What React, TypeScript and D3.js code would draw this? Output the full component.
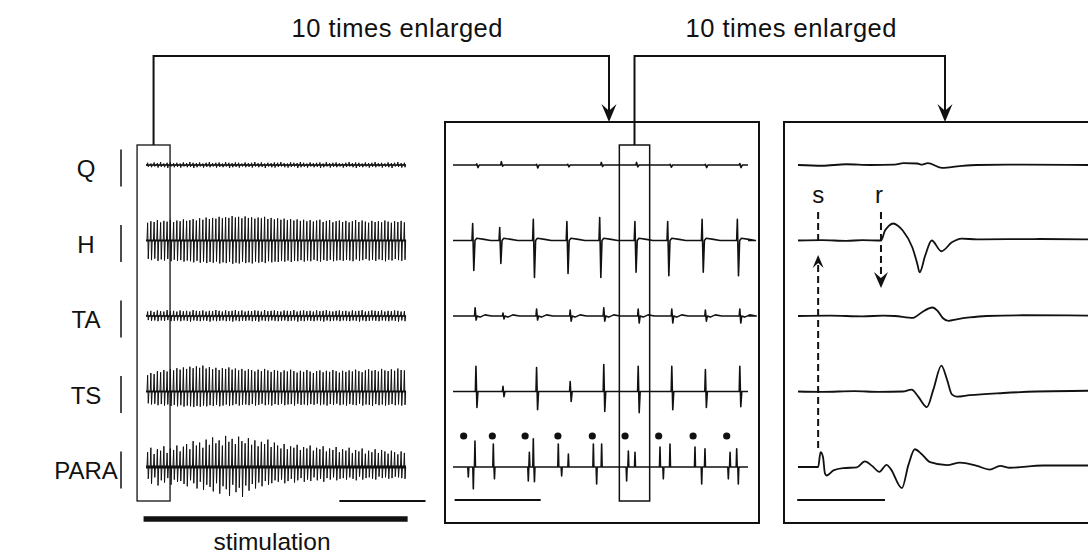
import React from "react";
import * as d3 from "d3";

// ---------- labels ----------
const muscles = ["Q", "H", "TA", "TS", "PARA"];
const headerLabel = "10 times enlarged";
const stimLabel = "stimulation";

// ---------- left panel (whole stimulation train), amplitudes in 0.01 mV per stimulus ----------
const stimPeriodMs = 40; // 25 Hz stimulation
const stimCount = 80;
const leftUp: Record<string, number[]> = {
  Q: [6,4,7,5,8,4,6,7,5,6, 4,7,5,8,6,5,7,4,6,8, 5,6,7,4,8,6,5,7,6,4, 7,5,6,8,5,7,4,6,5,7,
      6,8,5,4,7,6,5,8,6,4, 7,5,6,7,4,8,5,6,7,5, 4,6,8,5,7,6,4,7,5,6, 8,5,6,4,7,5,6,8,5,6],
  H: [48,52,50,55,49,53,51,56,50,54, 52,57,53,55,58,54,60,56,62,58, 61,59,64,60,63,61,66,62,64,60, 65,61,63,59,62,60,64,58,61,57,
      60,56,59,55,58,54,57,53,56,52, 55,51,54,56,50,53,55,49,52,54, 50,53,49,52,55,50,54,51,48,53, 50,52,49,54,51,48,52,50,53,49],
  TA: [12,14,11,15,13,12,16,13,14,12, 15,13,14,12,16,14,13,15,12,14, 13,16,14,12,15,13,14,16,13,15, 12,14,13,15,14,12,16,13,14,15,
       13,12,15,14,13,16,12,14,15,13, 14,12,15,13,14,16,13,12,14,15, 13,14,12,15,13,14,16,12,13,15, 14,13,15,12,14,13,15,14,12,13],
  TS: [44,50,47,55,52,58,54,60,57,63, 59,65,61,67,63,68,64,70,62,66, 60,64,58,63,61,65,59,62,57,61, 56,60,58,54,59,55,61,57,53,58,
       56,52,57,54,59,55,51,56,53,58, 54,50,55,57,52,56,53,58,55,51, 56,53,57,54,59,55,52,57,60,56, 58,54,61,57,55,60,56,62,58,57],
  PARA: [40,52,35,48,44,56,38,50,46,58, 42,55,62,48,70,58,66,52,74,60, 80,64,72,58,84,68,76,62,82,70, 64,78,60,72,56,68,62,74,54,66,
         58,50,62,48,56,52,60,46,54,50, 58,44,52,48,56,42,50,46,54,40, 48,44,52,38,46,42,50,36,44,40, 48,38,46,42,36,44,40,34,42,38],
};
const leftDown: Record<string, number[]> = {
  Q: [5,6,4,7,5,6,8,4,6,5, 7,4,6,5,8,6,4,7,5,6, 4,7,5,6,4,8,6,5,7,4, 6,5,7,4,6,5,8,4,6,7,
      5,4,6,7,5,4,8,6,5,7, 4,6,5,8,6,4,7,5,6,4, 7,5,4,6,8,5,6,4,7,5, 6,4,7,5,6,8,4,5,7,6],
  H: [50,53,49,55,51,54,50,56,52,55, 53,57,54,56,59,55,60,57,61,58, 60,57,62,59,61,58,63,60,62,58, 61,59,62,57,60,58,61,56,59,57,
      58,55,57,54,58,55,56,53,57,54, 56,52,55,57,53,55,52,56,54,53, 55,52,54,56,51,55,53,50,54,52, 55,51,53,56,52,54,50,53,55,52],
  TA: [11,13,12,14,12,13,11,14,13,12, 14,12,13,15,12,13,14,12,13,15, 12,14,13,12,14,13,15,12,14,13, 13,12,14,13,15,12,13,14,12,13,
       14,13,12,14,13,12,15,13,14,12, 13,14,12,13,15,12,14,13,12,14, 12,13,14,12,13,15,12,14,13,12, 13,14,12,13,14,12,13,15,12,14],
  TS: [32,35,33,37,34,38,35,39,36,40, 37,41,38,40,42,39,41,38,40,37, 39,36,40,38,35,39,37,34,38,36, 35,37,34,38,36,33,37,35,38,34,
       36,33,37,35,34,38,33,36,35,37, 34,36,33,37,35,38,34,36,33,37, 35,38,34,36,37,33,38,35,36,39, 34,37,35,38,36,34,37,35,38,36],
  PARA: [32,45,28,50,36,42,30,48,34,40, 38,46,52,36,44,58,40,62,48,54, 66,44,72,52,60,78,48,68,56,81, 50,64,46,58,42,52,38,48,44,36,
         40,34,44,38,32,42,36,30,40,34, 38,28,36,32,40,30,34,28,36,32, 30,34,28,32,36,26,34,30,28,32, 34,26,30,28,32,30,26,28,30,32],
};
const leftWindowMs = [-110, 296];

// ---------- middle panel (10x enlarged), times in ms ----------
const midStimTimes = [13, 48, 88, 128, 170, 210, 251, 293, 334];
const midQTimes = [29, 59, 102, 140, 181, 224, 265, 308, 350];
const midQUp = [3, 9, 2, 2, 7, 7, 2, 2, 4];
const midQDown = [7, 3, 8, 5, 4, 5, 6, 7, 7];
const midHTimes = [24, 57, 98, 139, 179, 222, 262, 304, 347];
const midHUp = [46, 35, 57, 51, 62, 51, 51, 57, 57];
const midHDown = [81, 62, 100, 89, 100, 86, 95, 86, 95];
const midTATimes = [27, 61, 102, 143, 184, 226, 267, 308, 350];
const midTAUp = [22, 8, 19, 16, 22, 19, 19, 16, 19];
const midTADown = [11, 8, 11, 14, 14, 19, 19, 14, 19];
const midTSTimes = [28, 61, 102, 143, 184, 226, 267, 308, 350];
const midTSUp = [68, 14, 65, 27, 73, 68, 68, 59, 68];
const midTSDown = [43, 14, 49, 27, 54, 57, 49, 43, 41];
const midPARATimes = [18.7, 24.8, 26.8, 49.2, 50.6, 91.9, 93.2, 98, 99.4, 128.5, 132.6, 140.8, 171.3, 175.3, 181.4,
  211.9, 214, 222.1, 252.6, 256.7, 264.8, 295.3, 303.5, 307.5, 336, 338.1, 346.2, 348.2];
const midPARAAmp = [-27, -59, 70, 62, -32, -38, 40, 76, -40, 62, -24, 35, 62, -46, 62,
  -38, 43, 40, 54, -32, 62, 54, -46, 49, -32, 40, 49, -46];
const midWindowMs = [203, 240];

// ---------- right panel (100x enlarged), [ms, 0.01 mV] ----------
const rightQ: [number, number][] = [[0,0],[3,-2],[6,2],[9,0],[12,1],[13.1,5],[14.8,4],[15.4,1],[16.1,5],[17.9,-8],[20.1,-3],[22.2,0],[28,1],[36,0]];
const rightH: [number, number][] = [[0,0],[3,1],[6,-1],[8,1],[10.3,0],[10.8,27],[11.2,38],[11.8,46],[12.4,40],[13,27],[14.2,-19],[14.8,-62],[15.1,-86],[15.8,-40],[16.6,0],[17.8,-29],[19.1,-5],[20.3,5],[22.2,3],[30,4],[36,3]];
const rightTA: [number, number][] = [[0,0],[4,1],[8,-1],[10.6,1],[12,0],[14.3,-5],[15.3,9],[16.7,23],[17.4,12],[18,-6],[18.7,-13],[19.7,-9],[21.3,-4],[23.4,0],[28,2],[36,1]];
const rightTS: [number, number][] = [[0,0],[3,-1],[7,1],[10,-1],[13,0],[14.1,5],[14.9,-13],[16,-42],[16.8,5],[17.8,70],[18.5,32],[19.1,-8],[19.7,-14],[21.3,-10],[25.5,-4],[29.6,0],[36,2]];
const rightPARA: [number, number][] = [[0,0],[2.5,0],[2.8,40],[3.1,27],[3.35,-18],[3.55,-23],[4.4,-9],[5.6,-3],[7.3,-1],[8.3,15],[9.2,3],[10.1,-13],[11,6],[11.5,-5],[12.9,-57],[13.7,5],[14.5,48],[15.3,36],[16.4,13],[18.5,5],[20.1,12],[22.2,3],[23.8,-7],[25.1,3],[26.3,-2],[30.4,4],[36,4]];
const stimMarkMs = 2.5;
const responseMarkMs = 10.3;

const FONT = "'Liberation Sans', Arial, Helvetica, sans-serif";
const INK = "#111";

export default function App() {
  const W = 1088, H = 556;
  const yRow = d3.scalePoint<string>().domain(muscles).range([165, 467]);
  const amp = d3.scaleLinear().domain([0, 100]).range([0, 37]); // 1 mV = 37 px
  const xLeft = d3.scaleLinear().domain([0, 3200]).range([146, 406]);
  const xMid = d3.scaleLinear().domain([0, 360]).range([453, 748]);
  const xRight = d3.scaleLinear().domain([0, 36]).range([798, 1088]);

  const lineFor = (xs: d3.ScaleLinear<number, number>, base: number, curve: d3.CurveFactory = d3.curveLinear) =>
    d3.line<[number, number]>().x(d => xs(d[0])).y(d => base - amp(d[1])).curve(curve);

  const stimTimes = d3.range(stimCount).map(i => 20 + i * stimPeriodMs);

  // Left panel paths
  const leftPaths = muscles.map(m => {
    const pts: [number, number][] = [[0, 0]];
    stimTimes.forEach((t, i) => {
      pts.push([t - 8, 0], [t, leftUp[m][i]], [t + 8, -leftDown[m][i]], [t + 16, 0]);
    });
    pts.push([3200, 0]);
    return { m, d: lineFor(xLeft, yRow(m)!)(pts) };
  });

  // Middle panel paths
  const biphasic = (times: number[], up: number[], down: number[], w: number, tail: [number, number][] = []) => {
    const pts: [number, number][] = [[0, 0]];
    times.forEach((t, i) => {
      pts.push([t - w * 0.6, 0], [t, up[i]], [t + w, -down[i]], [t + w * 2, 0]);
      tail.forEach(([dt, v]) => pts.push([t + dt, v]));
    });
    pts.push([360, 0]);
    return pts;
  };
  const midPts: Record<string, [number, number][]> = {
    Q: biphasic(midQTimes, midQUp, midQDown, 1.5),
    H: biphasic(midHTimes, midHUp, midHDown, 1.4, [[5, 6], [14, 3], [22, 0]]),
    TA: biphasic(midTATimes, midTAUp, midTADown, 1.2, [[6, -3], [12, 3], [20, 0]]),
    TS: biphasic(midTSTimes, midTSUp, midTSDown, 1.2),
    PARA: (() => {
      const pts: [number, number][] = [[0, 0]];
      midPARATimes.forEach((t, i) => pts.push([t - 0.6, 0], [t, midPARAAmp[i]], [t + 0.6, 0]));
      pts.push([360, 0]);
      return pts;
    })(),
  };
  const midPaths = muscles.map(m => ({ m, d: lineFor(xMid, yRow(m)!)(midPts[m]) }));

  const rightData: Record<string, [number, number][]> = { Q: rightQ, H: rightH, TA: rightTA, TS: rightTS, PARA: rightPARA };
  const rightPaths = muscles.map(m => ({ m, d: lineFor(xRight, yRow(m)!, d3.curveMonotoneX)(rightData[m]) }));

  // geometry
  const boxTop = 122, boxBottom = 523;
  const winTop = 145, winBottom = 501;
  const connY = 56;
  const lw0 = xLeft(leftWindowMs[0]), lw1 = xLeft(leftWindowMs[1]);
  const mw0 = xMid(midWindowMs[0]), mw1 = xMid(midWindowMs[1]);
  const arrow1X = 609, arrow2X = 945;
  const arrowDown = (x: number, tip: number, w: number, h: number) =>
    `M${x},${tip} L${x - w / 2},${tip - h} L${x},${tip - h * 0.62} L${x + w / 2},${tip - h} Z`;
  const arrowUp = (x: number, tip: number, w: number, h: number) =>
    `M${x},${tip} L${x - w / 2},${tip + h} L${x},${tip + h * 0.62} L${x + w / 2},${tip + h} Z`;

  const sX = xRight(stimMarkMs);
  const rX = xRight(responseMarkMs);

  return (
    <svg width={W} height={H} style={{ position: "absolute", left: 0, top: 0, background: "#fff" }} fontFamily={FONT}>
      {/* header labels */}
      <text x={397} y={37} fontSize={25.5} textAnchor="middle" textLength={211} lengthAdjust="spacing" fill={INK}>{headerLabel}</text>
      <text x={791} y={37} fontSize={25.5} textAnchor="middle" textLength={211} lengthAdjust="spacing" fill={INK}>{headerLabel}</text>

      {/* connectors */}
      <path d={`M${(lw0 + lw1) / 2},${winTop} V${connY} H${arrow1X} V${boxTop - 6}`} fill="none" stroke={INK} strokeWidth={2} />
      <path d={arrowDown(arrow1X, boxTop, 15, 18)} fill={INK} />
      <path d={`M${(mw0 + mw1) / 2},${winTop} V${connY} H${arrow2X} V${boxTop - 6}`} fill="none" stroke={INK} strokeWidth={2} />
      <path d={arrowDown(arrow2X, boxTop, 15, 18)} fill={INK} />

      {/* muscle labels and calibration bars */}
      {muscles.map(m => (
        <g key={m}>
          <text x={86} y={yRow(m)! + 12} fontSize={24} textAnchor="middle" fill={INK}>{m}</text>
          <line x1={121} x2={121} y1={yRow(m)! + 3 - amp(50)} y2={yRow(m)! + 3 + amp(50)} stroke={INK} strokeWidth={1.5} />
        </g>
      ))}

      {/* left panel */}
      {leftPaths.map(p => (
        <g key={p.m}>
          <line x1={xLeft(0)} x2={xLeft(3200)} y1={yRow(p.m)} y2={yRow(p.m)} stroke={INK}
            strokeWidth={p.m === "PARA" ? 3 : p.m === "H" || p.m === "TS" ? 2 : 1.5} />
          <path d={p.d!} fill="none" stroke={INK} strokeWidth={1} />
        </g>
      ))}
      <rect x={lw0} y={winTop} width={lw1 - lw0} height={winBottom - winTop} fill="none" stroke={INK} strokeWidth={1.3} />
      <line x1={xLeft(2380)} x2={xLeft(3440)} y1={501} y2={501} stroke={INK} strokeWidth={1.8} />
      <line x1={xLeft(stimTimes[0] - 50)} x2={xLeft(3220)} y1={519} y2={519} stroke={INK} strokeWidth={5.5} />
      <text x={272} y={550} fontSize={24.5} textAnchor="middle" fill={INK}>{stimLabel}</text>

      {/* middle panel */}
      <rect x={445} y={boxTop} width={759 - 445} height={boxBottom - boxTop} fill="none" stroke={INK} strokeWidth={2} />
      {midPaths.map(p => (
        <path key={p.m} d={p.d!} fill="none" stroke={INK} strokeWidth={1.6} strokeLinejoin="round" />
      ))}
      {midStimTimes.map((t, i) => (
        <circle key={i} cx={xMid(t)} cy={436} r={3.6} fill={INK} />
      ))}
      <rect x={mw0} y={winTop} width={mw1 - mw0} height={winBottom - winTop} fill="none" stroke={INK} strokeWidth={1.5} />
      <line x1={xMid(2)} x2={xMid(107)} y1={500} y2={500} stroke={INK} strokeWidth={1.8} />

      {/* right panel */}
      <rect x={784} y={boxTop} width={320} height={boxBottom - boxTop} fill="none" stroke={INK} strokeWidth={2} />
      {rightPaths.map(p => (
        <path key={p.m} d={p.d!} fill="none" stroke={INK} strokeWidth={1.8} />
      ))}
      <line x1={xRight(-0.1)} x2={xRight(10.8)} y1={500} y2={500} stroke={INK} strokeWidth={1.8} />

      {/* s / r markers */}
      <text x={sX} y={203} fontSize={24} textAnchor="middle" fill={INK}>s</text>
      <text x={rX - 2} y={203} fontSize={24} textAnchor="middle" fill={INK}>r</text>
      <line x1={sX} x2={sX} y1={212} y2={241} stroke={INK} strokeWidth={2} strokeDasharray="7,4" />
      <line x1={sX} x2={sX} y1={265} y2={448} stroke={INK} strokeWidth={2} strokeDasharray="7,4" />
      <path d={arrowUp(sX, 255, 11, 13)} fill={INK} />
      <line x1={rX} x2={rX} y1={212} y2={280} stroke={INK} strokeWidth={2} strokeDasharray="7,4" />
      <path d={arrowDown(rX, 288, 14, 16)} fill={INK} />
    </svg>
  );
}
